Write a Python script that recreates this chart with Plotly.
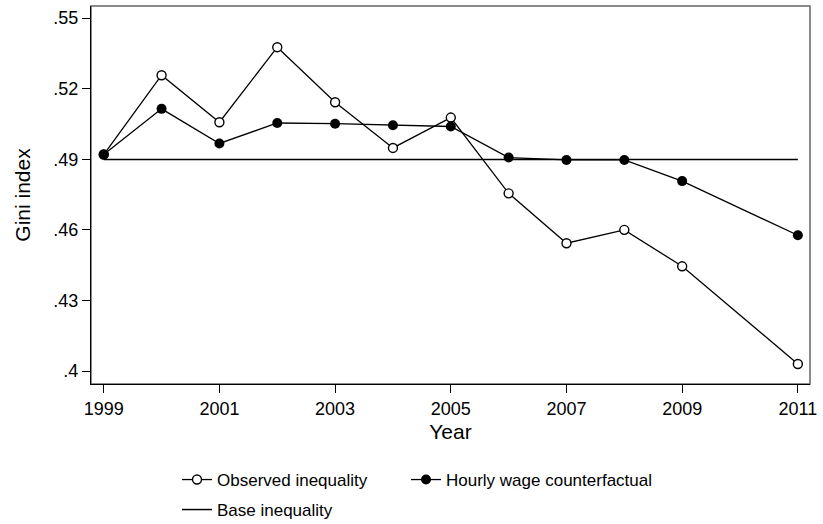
import plotly.graph_objects as go

# Survey years
years = [1999, 2000, 2001, 2002, 2003, 2004, 2005, 2006, 2007, 2008, 2009, 2011]

# Gini index series
observed = [0.492, 0.5257, 0.5057, 0.5376, 0.5142, 0.4948, 0.5077,
            0.4755, 0.4543, 0.4600, 0.4445, 0.4030]
counterfactual = [0.492, 0.5114, 0.4967, 0.5054, 0.5051, 0.5044, 0.5039,
                  0.4907, 0.4897, 0.4897, 0.4807, 0.4577]

# Reference level held constant over the period
base_years = [1999, 2011]
base_level = [0.4899, 0.4899]

x_ticks = [1999, 2001, 2003, 2005, 2007, 2009, 2011]
y_ticks = [0.55, 0.52, 0.49, 0.46, 0.43, 0.40]
y_tick_labels = [".55", ".52", ".49", ".46", ".43", ".4"]

FONT = "Liberation Sans, Arial, Helvetica, sans-serif"

fig = go.Figure()

fig.add_trace(go.Scatter(
    x=years, y=observed, name="Observed inequality",
    mode="lines+markers",
    line=dict(color="black", width=1.3),
    marker=dict(symbol="circle", size=9, color="white",
                line=dict(color="black", width=1.4)),
    legend="legend",
))
fig.add_trace(go.Scatter(
    x=years, y=counterfactual, name="Hourly wage counterfactual",
    mode="lines+markers",
    line=dict(color="black", width=1.3),
    marker=dict(symbol="circle", size=10, color="black"),
    legend="legend2",
))
fig.add_trace(go.Scatter(
    x=base_years, y=base_level, name="Base inequality",
    mode="lines",
    line=dict(color="black", width=1.5),
    legend="legend3",
))

# Thin grey outline of the plot region
fig.add_shape(type="rect", xref="paper", yref="paper",
              x0=0, y0=0, x1=1, y1=1,
              line=dict(color="#666666", width=1.5), layer="below")

legend_common = dict(
    orientation="h", xref="container", yref="container",
    xanchor="left", yanchor="middle",
    font=dict(family=FONT, size=17, color="black"),
    bgcolor="rgba(0,0,0,0)", borderwidth=0,
    itemclick=False, itemdoubleclick=False,
)

row1 = 1 - 480 / 524
row2 = 1 - 510 / 524

fig.update_layout(
    width=823, height=524,
    margin=dict(l=91, r=9, t=6, b=140),
    paper_bgcolor="white", plot_bgcolor="white",
    font=dict(family=FONT, color="black"),
    showlegend=True,
    legend=dict(x=177 / 823, y=row1, **legend_common),
    legend2=dict(x=406 / 823, y=row1, **legend_common),
    legend3=dict(x=177 / 823, y=row2, **legend_common),
    xaxis=dict(
        range=[1998.78, 2011.21],
        tickmode="array", tickvals=x_ticks,
        ticks="outside", ticklen=8, tickwidth=1, tickcolor="black",
        showline=True, linecolor="black", linewidth=1.3,
        showgrid=False, zeroline=False,
        tickfont=dict(family=FONT, size=18, color="black"),
        title=dict(text="Year", font=dict(family=FONT, size=21, color="black"),
                   standoff=6),
    ),
    yaxis=dict(
        range=[0.3945, 0.5551],
        tickmode="array", tickvals=y_ticks, ticktext=y_tick_labels,
        ticks="outside", ticklen=8, tickwidth=1, tickcolor="black",
        showline=True, linecolor="black", linewidth=1.3,
        showgrid=False, zeroline=False,
        tickfont=dict(family=FONT, size=18, color="black"),
        title=dict(text="Gini index", font=dict(family=FONT, size=21, color="black"),
                   standoff=16),
    ),
)

fig.write_html("out.html")
